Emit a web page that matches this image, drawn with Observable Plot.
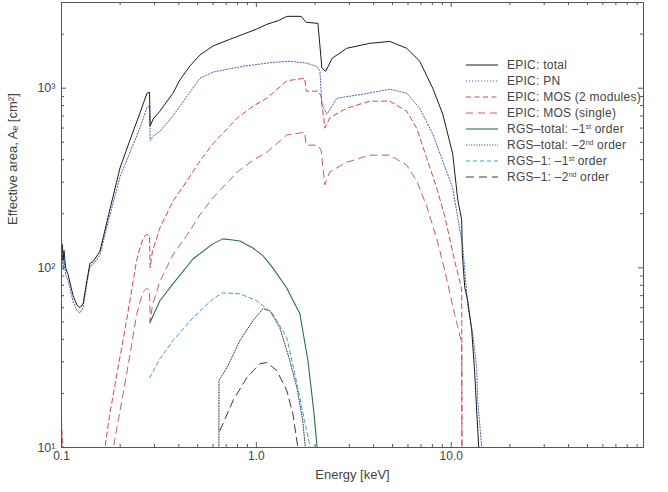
<!DOCTYPE html>
<html><head><meta charset="utf-8">
<script src="https://cdn.jsdelivr.net/npm/d3@7"></script>
<script src="https://cdn.jsdelivr.net/npm/@observablehq/plot@0.6"></script>
<style>
body{margin:0;background:#fff;}
#wrap{position:relative;width:668px;height:492px;font-family:"Liberation Sans",Arial,sans-serif;}
#legend{position:absolute;left:466px;top:57px;font-size:12px;letter-spacing:0.25px;color:#444;line-height:16px;}
.row{display:flex;align-items:center;height:16px;white-space:nowrap;}
.row svg{width:32px;height:8px;margin-right:9px;flex:none;}
sup{font-size:7px;vertical-align:4px;line-height:0;letter-spacing:0;}
</style></head><body>
<div id="wrap"><div id="chart"></div><div id="legend"></div></div>
<script>
// ---- data (energy in keV, effective area in cm^2) ----
const epicTotalE = [0.1,0.101,0.102,0.103,0.105,0.108,0.1147,0.12,0.1244,0.129,0.135,0.14,0.145,0.1576,0.173,0.1995,0.2245,0.2527,0.2745,0.283,0.285,0.295,0.32,0.373,0.405,0.456,0.513,0.6,0.73,0.853,1.0,1.132,1.3,1.434,1.7,1.78,1.8,2.07,2.17,2.27,2.45,2.91,3.82,4.84,5.91,6.89,8.04,9.05,10.18,10.8,11.32,11.4,11.73,12.15,12.74,13.2,13.51,13.84,14.0];
const epicTotalA = [120,135,110,125,100,92,70,62,60,63,85,106,108,124,190,359,514,727,938,950,615,673,745,938,1110,1330,1530,1720,1870,1995,2130,2267,2380,2512,2512,2356,2330,2296,1292,1242,1468,1668,1778,1822,1668,1413,1000,717,430,240,185,120,78,66,45,26,16,10,9];

const epicPnE = [0.1,0.101,0.102,0.103,0.105,0.108,0.1147,0.12,0.1244,0.129,0.135,0.14,0.145,0.1576,0.173,0.1995,0.2245,0.2527,0.2745,0.283,0.285,0.295,0.32,0.373,0.44,0.513,0.6,0.853,1.2,1.486,1.8,2.04,2.12,2.167,2.3,2.59,3.52,4.84,5.91,6.89,8.04,9.05,10.18,10.8,11.46,12.15,12.89,13.51,13.68,14.34,14.6];
const epicPnA = [103,118,97,110,92,85,65,58,56,60,82,102,104,118,178,320,440,600,780,800,512,540,575,700,900,1136,1230,1324,1390,1413,1380,1324,1250,815,717,880,926,987,938,774,555,393,278,190,132,62,43,27.8,18.2,10,9];

const mos2E = [0.1,0.101,0.103,0.165,0.167,0.177,0.1925,0.2068,0.2245,0.2425,0.2527,0.263,0.2745,0.283,0.285,0.293,0.32,0.373,0.44,0.513,0.598,0.8,0.96,1.132,1.434,1.77,1.8,2.07,2.15,2.245,2.38,2.91,3.82,4.84,5.91,6.65,7.49,8.43,9.26,10.42,11.2,11.32,11.36];
const mos2A = [14,11,9,9,10,15.4,25.8,39.3,65.6,109,129,147,154,150,100,124,167,235,304,393,490,684,794,880,1100,1136,963,963,900,599,684,774,847,847,745,599,408,278,194,109,80,74,9];

const mos1E = [0.1,0.101,0.103,0.167,0.177,0.1925,0.2068,0.2245,0.2425,0.2527,0.263,0.2745,0.283,0.285,0.293,0.32,0.373,0.44,0.513,0.598,0.8,0.96,1.132,1.434,1.77,1.8,2.07,2.15,2.245,2.38,2.91,3.82,4.84,5.91,6.65,7.49,8.43,9.26,10.42,11.2,11.32,11.36];
const mos1A = [12,9,8,5,7.7,12.9,19.7,32.8,54.5,64.5,73.5,77,75,50,62,84,118,152,197,245,342,397,440,550,568,482,482,450,290,342,387,424,424,373,305,220,145,97,55,40,37,5];

const rgsTot1E = [0.284,0.32,0.373,0.4725,0.598,0.673,0.758,0.823,0.96,1.08,1.215,1.434,1.672,1.84,1.97,2.07];
const rgsTot1A = [49.5,65.6,81.5,112,136,145,143,141,129,117,100,77,55.5,30.4,16,9];

const rgsTot2E = [0.642,0.643,0.706,0.823,0.96,1.08,1.173,1.32,1.486,1.614,1.73,1.8];
const rgsTot2A = [9,23.6,27.8,39.3,50.8,59.2,57.7,46.4,30.4,21.5,14.1,9];

const rgs1o1E = [0.284,0.32,0.373,0.4725,0.598,0.673,0.823,1.006,1.215,1.434,1.633,1.766,1.93];
const rgs1o1A = [24.5,31.2,39.3,52.7,67.2,72.6,71.7,65.6,55.5,40.8,21.5,14.1,9];

const rgs1o2E = [0.65,0.758,0.894,1.042,1.132,1.274,1.434,1.539,1.633,1.66];
const rgs1o2A = [12.4,18.2,24.5,29.3,29.7,26.8,20.7,15.4,10,9];

const seriesNames = ["EPIC: total","EPIC: PN","EPIC: MOS (2 modules)","EPIC: MOS (single)",
  "RGS–total: –1<sup>st</sup> order","RGS–total: –2<sup>nd</sup> order","RGS–1: –1<sup>st</sup> order","RGS–1: –2<sup>nd</sup> order"];

const xTickValues = [0.1, 1, 10];
const xTickLabels = ["0.1", "1.0", "10.0"];
const xMinorTicks = [0.2,0.3,0.4,0.5,0.6,0.7,0.8,0.9,2,3,4,5,6,7,8,9,20,30,40,50,60,70,80,90];
const yTickValues = [10, 100, 1000];
const yTickLabels = ["10¹", "10²", "10³"];
const yMinorTicks = [20,30,40,50,60,70,80,90,200,300,400,500,600,700,800,900,2000];
const xTitle = "Energy [keV]";
const yTitle = "Effective area, Aₑ [cm²]";

// ---- styles ----
const styles = [
  {color:"#1c1c1c", dash:null, w:1},
  {color:"#3d62a8", dash:"1.2,1.8", w:1},
  {color:"#d9434f", dash:"5,3.5", w:1},
  {color:"#c65a6c", dash:"7,5", w:1},
  {color:"#2a6e50", dash:null, w:1.1},
  {color:"#333333", dash:"1,1.6", w:1},
  {color:"#3fa0c8", dash:"4,3", w:1},
  {color:"#3a3a3a", dash:"8,5", w:1}
];
const seriesData = [
  [epicTotalE, epicTotalA],[epicPnE, epicPnA],[mos2E, mos2A],[mos1E, mos1A],
  [rgsTot1E, rgsTot1A],[rgsTot2E, rgsTot2A],[rgs1o1E, rgs1o1A],[rgs1o2E, rgs1o2A]
];

const W = 668, H = 492, mL = 61, mR = 25, mT = 2, mB = 45;
const innerW = W - mL - mR, innerH = H - mT - mB;
const axisColor = "#555";

const lineMarks = seriesData.map(([E, A], k) => Plot.line(E.map((e, i) => ({e, a: A[i]})), {
  x: "e", y: "a", stroke: styles[k].color, strokeWidth: styles[k].w,
  strokeDasharray: styles[k].dash, clip: true
}));
const order = [3,2,7,5,6,4,1,0];

const chart = Plot.plot({
  width: W, height: H,
  marginLeft: mL, marginRight: mR, marginTop: mT, marginBottom: mB,
  x: {type: "log", domain: [0.1, 97], axis: null},
  y: {type: "log", domain: [10, 3000], axis: null},
  style: {fontFamily: '"Liberation Sans", Arial, sans-serif', fontSize: "12px", color: "#444", background: "white", overflow: "visible"},
  marks: [
    ...order.map(k => lineMarks[k]),
    Plot.frame({stroke: axisColor, strokeWidth: 1}),
    Plot.tickX(xMinorTicks, {x: d => d, insetTop: innerH - 3, stroke: axisColor}),
    Plot.tickX(xMinorTicks, {x: d => d, insetBottom: innerH - 3, stroke: axisColor}),
    Plot.tickX(xTickValues, {x: d => d, insetTop: innerH - 5, stroke: axisColor}),
    Plot.tickX(xTickValues, {x: d => d, insetBottom: innerH - 5, stroke: axisColor}),
    Plot.tickY(yMinorTicks, {y: d => d, insetRight: innerW - 3, stroke: axisColor}),
    Plot.tickY(yMinorTicks, {y: d => d, insetLeft: innerW - 3, stroke: axisColor}),
    Plot.tickY(yTickValues, {y: d => d, insetRight: innerW - 5, stroke: axisColor}),
    Plot.tickY(yTickValues, {y: d => d, insetLeft: innerW - 5, stroke: axisColor}),
    Plot.text(xTickLabels, {x: (d, i) => xTickValues[i], text: d => d, frameAnchor: "bottom", dy: 12, fontSize: 12, fill: "#444"}),
    Plot.text(yTickLabels, {y: (d, i) => yTickValues[i], text: d => d, frameAnchor: "left", textAnchor: "end", dx: -6, fontSize: 12.5, fill: "#444"}),
    Plot.text([xTitle], {text: d => d, frameAnchor: "bottom", dy: 31, fontSize: 13, fill: "#444"}),
    Plot.text([yTitle], {text: d => d, frameAnchor: "left", rotate: -90, dx: -49, fontSize: 13, fill: "#444"})
  ]
});
document.getElementById("chart").appendChild(chart);

const legend = document.getElementById("legend");
seriesNames.forEach((name, k) => {
  const s = styles[k];
  const row = document.createElement("div");
  row.className = "row";
  row.innerHTML = `<svg viewBox="0 0 32 8"><line x1="0" x2="32" y1="4" y2="4" stroke="${s.color}" stroke-width="${s.w}" ${s.dash ? `stroke-dasharray="${s.dash}"` : ""}/></svg><span>${name}</span>`;
  legend.appendChild(row);
});
</script>
</body></html>
